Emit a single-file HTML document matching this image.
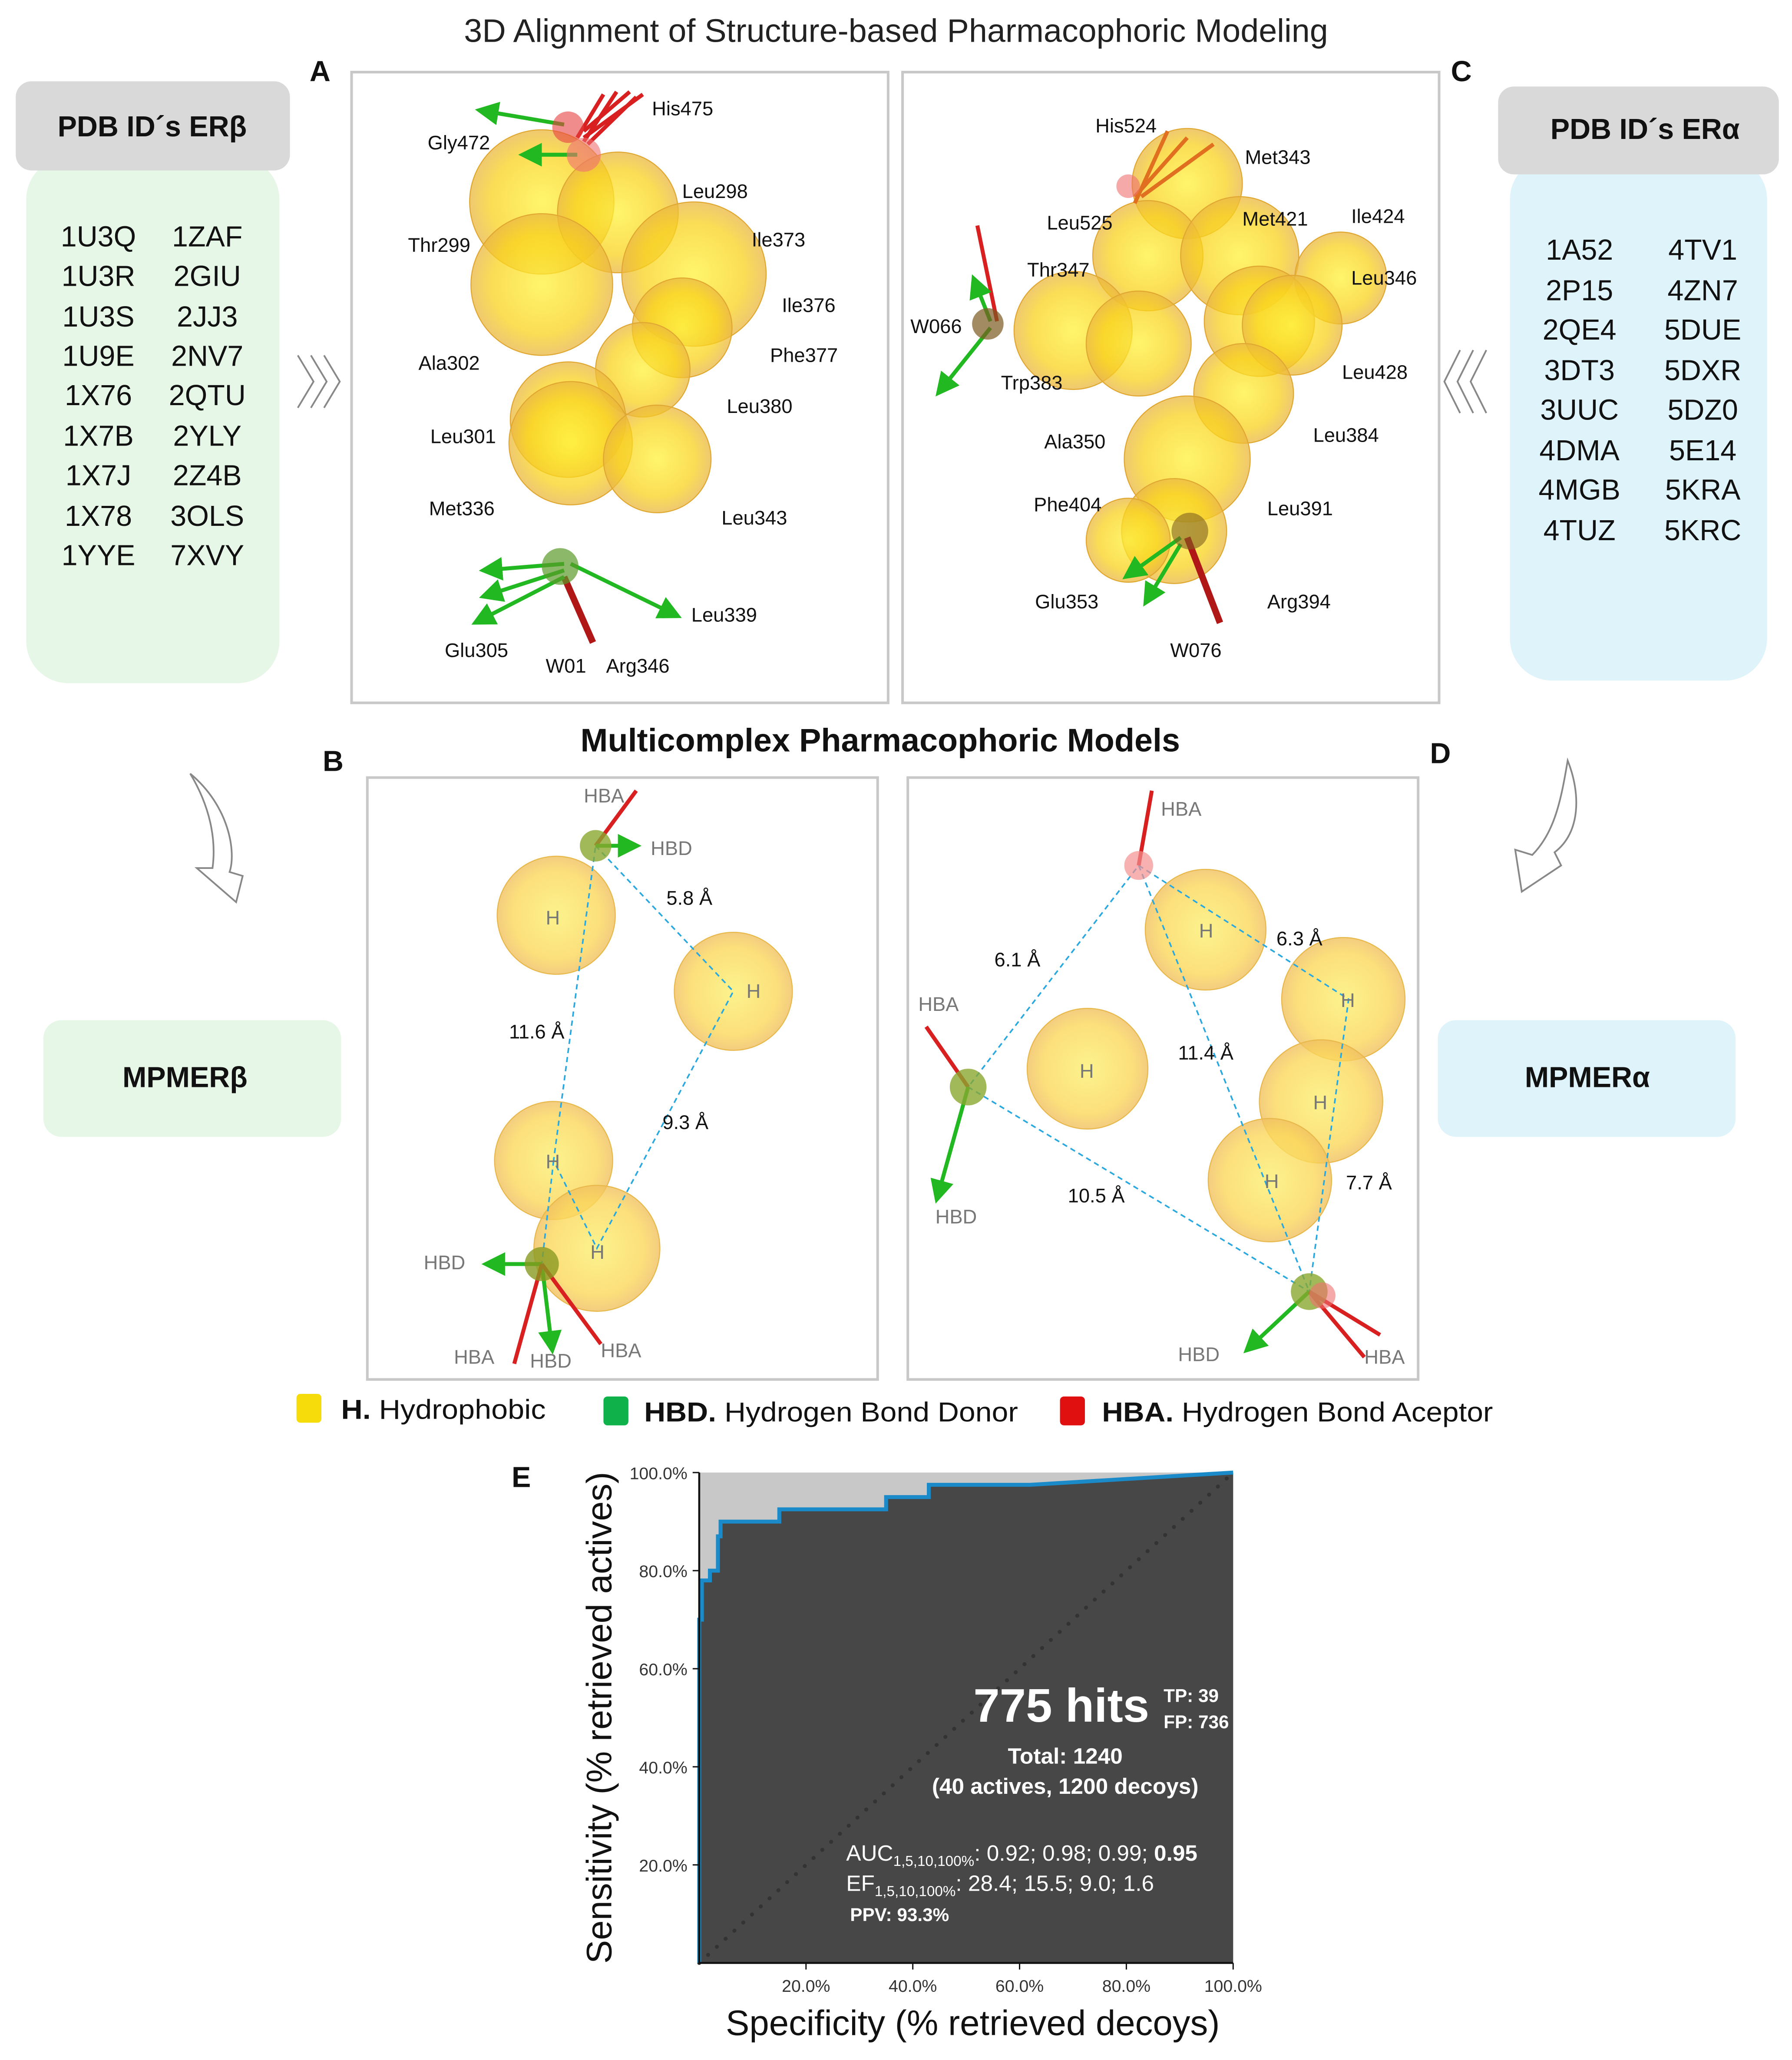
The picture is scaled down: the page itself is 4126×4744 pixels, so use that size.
<!DOCTYPE html>
<html><head><meta charset="utf-8"><style>
html,body{margin:0;padding:0;background:#fff;}
svg{display:block;}
text{font-family:"Liberation Sans",sans-serif;}
</style></head><body>
<svg id="fig" width="4126" height="4744" viewBox="0 0 1366 1571" preserveAspectRatio="none" xmlns="http://www.w3.org/2000/svg">
<defs>
<radialGradient id="sph" cx="50%" cy="50%" r="50%"><stop offset="0%" stop-color="#fff23a"/><stop offset="70%" stop-color="#f9d21c"/><stop offset="100%" stop-color="#eab640"/></radialGradient>
<radialGradient id="sphL" cx="50%" cy="50%" r="50%"><stop offset="0%" stop-color="#fbef70"/><stop offset="75%" stop-color="#fbd75a"/><stop offset="100%" stop-color="#f0c060"/></radialGradient>
<marker id="ag" markerWidth="6" markerHeight="6" refX="5" refY="3" orient="auto"><path d="M0,0 L6,3 L0,6z" fill="#22b822"/></marker>
<marker id="ar" markerWidth="6" markerHeight="6" refX="5" refY="3" orient="auto"><path d="M0,0 L6,3 L0,6z" fill="#d82020"/></marker>
</defs>

<text x="683" y="32" font-size="25" text-anchor="middle" fill="#222">3D Alignment of Structure-based Pharmacophoric Modeling</text>

<g>
<rect x="20" y="120" width="193" height="401" rx="32" fill="#e6f7e8"/>
<rect x="12" y="62" width="209" height="68" rx="12" fill="#d9d9d9"/>
<text x="116" y="104" font-size="22" font-weight="bold" text-anchor="middle" fill="#111">PDB ID´s ERβ</text>
<g font-size="22" fill="#111" text-anchor="middle">
<text x="75" y="188">1U3Q</text><text x="158" y="188">1ZAF</text>
<text x="75" y="218">1U3R</text><text x="158" y="218">2GIU</text>
<text x="75" y="249">1U3S</text><text x="158" y="249">2JJ3</text>
<text x="75" y="279">1U9E</text><text x="158" y="279">2NV7</text>
<text x="75" y="309">1X76</text><text x="158" y="309">2QTU</text>
<text x="75" y="340">1X7B</text><text x="158" y="340">2YLY</text>
<text x="75" y="370">1X7J</text><text x="158" y="370">2Z4B</text>
<text x="75" y="401">1X78</text><text x="158" y="401">3OLS</text>
<text x="75" y="431">1YYE</text><text x="158" y="431">7XVY</text>
</g></g>
<path d="M227,271 l12,20 l-12,20 M237,271 l12,20 l-12,20 M247,271 l12,20 l-12,20" stroke="#888" fill="none" stroke-width="1.3"/>
<path d="M1133,267 l-12,24 l12,24 M1123,267 l-12,24 l12,24 M1113,267 l-12,24 l12,24" stroke="#888" fill="none" stroke-width="1.3"/>

<g>
<rect x="1151" y="120" width="196" height="399" rx="32" fill="#dff3fa"/>
<rect x="1142" y="66" width="214" height="67" rx="12" fill="#d9d9d9"/>
<text x="1254" y="106" font-size="22" font-weight="bold" text-anchor="middle" fill="#111">PDB ID´s ERα</text>
<g font-size="22" fill="#111" text-anchor="middle">
<text x="1204" y="198">1A52</text><text x="1298" y="198">4TV1</text>
<text x="1204" y="229">2P15</text><text x="1298" y="229">4ZN7</text>
<text x="1204" y="259">2QE4</text><text x="1298" y="259">5DUE</text>
<text x="1204" y="290">3DT3</text><text x="1298" y="290">5DXR</text>
<text x="1204" y="320">3UUC</text><text x="1298" y="320">5DZ0</text>
<text x="1204" y="351">4DMA</text><text x="1298" y="351">5E14</text>
<text x="1204" y="381">4MGB</text><text x="1298" y="381">5KRA</text>
<text x="1204" y="412">4TUZ</text><text x="1298" y="412">5KRC</text>
</g></g>

<g font-size="22" font-weight="bold" fill="#111">
<text x="236" y="62">A</text><text x="1106" y="62">C</text><text x="246" y="588">B</text><text x="1090" y="582">D</text><text x="390" y="1134">E</text>
</g>

<g>
<rect x="268" y="55" width="409" height="481" fill="#fff" stroke="#c8c8c8" stroke-width="2"/>
<g stroke="#e0a830" stroke-width="0.8" fill="url(#sph)" fill-opacity="0.75">
<circle cx="413" cy="154" r="55"/><circle cx="471" cy="162" r="46"/><circle cx="413" cy="217" r="54"/>
<circle cx="529" cy="209" r="55"/><circle cx="520" cy="250" r="38"/><circle cx="490" cy="282" r="36"/>
<circle cx="433" cy="320" r="44"/><circle cx="435" cy="338" r="47"/><circle cx="501" cy="350" r="41"/>
</g>
<g stroke-width="3">
<line x1="445" y1="105" x2="490" y2="72" stroke="#d82020"/><line x1="445" y1="100" x2="480" y2="70" stroke="#d82020"/><line x1="445" y1="108" x2="470" y2="70" stroke="#d82020"/><line x1="440" y1="105" x2="460" y2="72" stroke="#d82020"/><line x1="448" y1="110" x2="485" y2="74" stroke="#d82020"/>
<line x1="430" y1="95" x2="365" y2="84" stroke="#22b822" marker-end="url(#ag)"/><line x1="440" y1="118" x2="398" y2="118" stroke="#22b822" marker-end="url(#ag)"/>
<line x1="430" y1="440" x2="452" y2="490" stroke="#b01818" stroke-width="5"/>
<line x1="430" y1="430" x2="368" y2="435" stroke="#22b822" marker-end="url(#ag)"/><line x1="430" y1="435" x2="368" y2="455" stroke="#22b822" marker-end="url(#ag)"/>
<line x1="430" y1="440" x2="362" y2="475" stroke="#22b822" marker-end="url(#ag)"/><line x1="435" y1="430" x2="517" y2="470" stroke="#22b822" marker-end="url(#ag)"/>
</g>
<circle cx="433" cy="97" r="12" fill="#e84040" fill-opacity="0.6"/><circle cx="445" cy="118" r="13" fill="#f07070" fill-opacity="0.6"/>
<circle cx="427" cy="432" r="14" fill="#5a9a2a" fill-opacity="0.7"/>
<g font-size="15" fill="#111">
<text x="497" y="88">His475</text><text x="326" y="114">Gly472</text><text x="520" y="151">Leu298</text><text x="311" y="192">Thr299</text>
<text x="573" y="188">Ile373</text><text x="596" y="238">Ile376</text><text x="319" y="282">Ala302</text><text x="587" y="276">Phe377</text>
<text x="554" y="315">Leu380</text><text x="328" y="338">Leu301</text><text x="327" y="393">Met336</text><text x="550" y="400">Leu343</text>
<text x="527" y="474">Leu339</text><text x="339" y="501">Glu305</text><text x="416" y="513">W01</text><text x="462" y="513">Arg346</text>
</g></g>

<g>
<rect x="688" y="55" width="409" height="481" fill="#fff" stroke="#c8c8c8" stroke-width="2"/>
<g stroke="#e0a830" stroke-width="0.8" fill="url(#sph)" fill-opacity="0.75">
<circle cx="905" cy="140" r="42"/><circle cx="875" cy="195" r="42"/><circle cx="945" cy="195" r="45"/>
<circle cx="1022" cy="212" r="35"/><circle cx="960" cy="245" r="42"/><circle cx="818" cy="252" r="45"/>
<circle cx="868" cy="262" r="40"/><circle cx="985" cy="248" r="38"/><circle cx="948" cy="300" r="38"/>
<circle cx="905" cy="350" r="48"/><circle cx="895" cy="405" r="40"/><circle cx="860" cy="412" r="32"/>
</g>
<g stroke-width="3">
<line x1="865" y1="150" x2="905" y2="105" stroke="#e07020"/><line x1="870" y1="150" x2="925" y2="110" stroke="#e07020"/><line x1="865" y1="155" x2="890" y2="100" stroke="#e07020"/>
<line x1="760" y1="245" x2="745" y2="172" stroke="#d82020"/><line x1="755" y1="245" x2="742" y2="212" stroke="#22b822" marker-end="url(#ag)"/>
<line x1="755" y1="250" x2="715" y2="300" stroke="#22b822" marker-end="url(#ag)"/>
<line x1="905" y1="410" x2="930" y2="475" stroke="#b01818" stroke-width="5"/><line x1="900" y1="410" x2="858" y2="440" stroke="#22b822" marker-end="url(#ag)"/><line x1="900" y1="415" x2="873" y2="460" stroke="#22b822" marker-end="url(#ag)"/>
</g>
<circle cx="753" cy="247" r="12" fill="#7a5a20" fill-opacity="0.7"/><circle cx="860" cy="142" r="9" fill="#f07070" fill-opacity="0.6"/><circle cx="907" cy="405" r="14" fill="#806020" fill-opacity="0.6"/>
<g font-size="15" fill="#111">
<text x="835" y="101">His524</text><text x="949" y="125">Met343</text><text x="798" y="175">Leu525</text><text x="947" y="172">Met421</text>
<text x="1030" y="170">Ile424</text><text x="783" y="211">Thr347</text><text x="1030" y="217">Leu346</text><text x="694" y="254">W066</text>
<text x="763" y="297">Trp383</text><text x="1023" y="289">Leu428</text><text x="796" y="342">Ala350</text><text x="1001" y="337">Leu384</text>
<text x="788" y="390">Phe404</text><text x="966" y="393">Leu391</text><text x="789" y="464">Glu353</text><text x="966" y="464">Arg394</text><text x="892" y="501">W076</text>
</g></g>

<text x="671" y="573" font-size="25" font-weight="bold" text-anchor="middle" fill="#111">Multicomplex Pharmacophoric Models</text>

<path d="M145,590 C175,615 180,650 175,665 L185,668 L180,688 L150,662 L162,662 C165,640 160,615 145,590z" fill="#fff" stroke="#888" stroke-width="1.3"/>
<path d="M1195,580 C1205,605 1205,635 1185,650 L1190,660 L1160,680 L1155,648 L1168,652 C1185,635 1190,610 1195,580z" fill="#fff" stroke="#888" stroke-width="1.3"/>

<rect x="33" y="778" width="227" height="89" rx="14" fill="#e6f7e8"/>
<text x="141" y="829" font-size="22" font-weight="bold" text-anchor="middle" fill="#111">MPMERβ</text>
<rect x="1096" y="778" width="227" height="89" rx="14" fill="#dff3fa"/>
<text x="1210" y="829" font-size="22" font-weight="bold" text-anchor="middle" fill="#111">MPMERα</text>

<g>
<rect x="280" y="593" width="389" height="459" fill="#fff" stroke="#c8c8c8" stroke-width="2"/>
<g stroke="#e8b84a" stroke-width="0.8" fill="url(#sphL)" fill-opacity="0.8">
<circle cx="424" cy="698" r="45"/><circle cx="559" cy="756" r="45"/><circle cx="422" cy="885" r="45"/><circle cx="455" cy="952" r="48"/>
</g>
<g fill="none" stroke="#29a8e0" stroke-width="1.2" stroke-dasharray="4,3">
<polyline points="454,645 559,756 455,952 422,885 454,645"/><line x1="422" y1="885" x2="413" y2="964"/>
</g>
<g stroke-width="3">
<line x1="454" y1="645" x2="485" y2="603" stroke="#d82020"/><line x1="454" y1="645" x2="486" y2="645" stroke="#22b822" marker-end="url(#ag)"/>
<line x1="413" y1="964" x2="370" y2="964" stroke="#22b822" marker-end="url(#ag)"/><line x1="413" y1="964" x2="421" y2="1030" stroke="#22b822" marker-end="url(#ag)"/>
<line x1="413" y1="964" x2="392" y2="1040" stroke="#d82020"/><line x1="413" y1="964" x2="458" y2="1025" stroke="#d82020"/>
</g>
<circle cx="454" cy="645" r="12" fill="#8aa830" fill-opacity="0.8"/><circle cx="413" cy="964" r="13" fill="#8a9a20" fill-opacity="0.8"/>
<g font-size="15" fill="#777"><text x="445" y="612">HBA</text><text x="496" y="652">HBD</text><text x="323" y="968">HBD</text><text x="346" y="1040">HBA</text><text x="404" y="1043">HBD</text><text x="458" y="1035">HBA</text>
<text x="416" y="705">H</text><text x="569" y="761">H</text><text x="416" y="891">H</text><text x="450" y="960">H</text></g>
<g font-size="15" fill="#111"><text x="508" y="690">5.8 Å</text><text x="388" y="792">11.6 Å</text><text x="505" y="861">9.3 Å</text></g>
</g>

<g>
<rect x="692" y="593" width="389" height="459" fill="#fff" stroke="#c8c8c8" stroke-width="2"/>
<g stroke="#e8b84a" stroke-width="0.8" fill="url(#sphL)" fill-opacity="0.8">
<circle cx="919" cy="709" r="46"/><circle cx="1024" cy="762" r="47"/><circle cx="829" cy="815" r="46"/><circle cx="1007" cy="840" r="47"/><circle cx="968" cy="900" r="47"/>
</g>
<g fill="none" stroke="#29a8e0" stroke-width="1.2" stroke-dasharray="4,3">
<polyline points="868,660 1028,762 998,985 738,829 868,660"/><line x1="868" y1="660" x2="998" y2="985"/>
</g>
<g stroke-width="3">
<line x1="868" y1="660" x2="878" y2="603" stroke="#d82020"/><line x1="738" y1="829" x2="706" y2="783" stroke="#d82020"/>
<line x1="738" y1="829" x2="714" y2="915" stroke="#22b822" marker-end="url(#ag)"/>
<line x1="998" y1="985" x2="950" y2="1030" stroke="#22b822" marker-end="url(#ag)"/><line x1="998" y1="985" x2="1040" y2="1035" stroke="#d82020"/><line x1="998" y1="985" x2="1052" y2="1018" stroke="#d82020"/>
</g>
<circle cx="868" cy="660" r="11" fill="#f49090" fill-opacity="0.7"/><circle cx="738" cy="829" r="14" fill="#8aa830" fill-opacity="0.8"/><circle cx="998" cy="985" r="14" fill="#8aa830" fill-opacity="0.8"/><circle cx="1008" cy="988" r="10" fill="#f07070" fill-opacity="0.6"/>
<g font-size="15" fill="#777"><text x="885" y="622">HBA</text><text x="700" y="771">HBA</text><text x="713" y="933">HBD</text><text x="898" y="1038">HBD</text><text x="1040" y="1040">HBA</text>
<text x="914" y="715">H</text><text x="1022" y="768">H</text><text x="823" y="822">H</text><text x="1001" y="846">H</text><text x="964" y="906">H</text></g>
<g font-size="15" fill="#111"><text x="758" y="737">6.1 Å</text><text x="973" y="721">6.3 Å</text><text x="898" y="808">11.4 Å</text><text x="814" y="917">10.5 Å</text><text x="1026" y="907">7.7 Å</text></g>
</g>

<g font-size="21" fill="#111">
<rect x="226" y="1063" width="19" height="22" rx="3" fill="#f5dc0a"/><text x="260" y="1082" textLength="156" lengthAdjust="spacingAndGlyphs"><tspan font-weight="bold">H.</tspan> Hydrophobic</text>
<rect x="460" y="1065" width="19" height="22" rx="3" fill="#0fb14a"/><text x="491" y="1084" textLength="285" lengthAdjust="spacingAndGlyphs"><tspan font-weight="bold">HBD.</tspan> Hydrogen Bond Donor</text>
<rect x="808" y="1065" width="19" height="22" rx="3" fill="#e01010"/><text x="840" y="1084" textLength="298" lengthAdjust="spacingAndGlyphs"><tspan font-weight="bold">HBA.</tspan> Hydrogen Bond Aceptor</text>
</g>

<g id="roc"></g>
</svg>
<script>
const fprValues=[0,0,0.5,0.5,2,2,3.5,3.5,4,4,15,15,35,35,43,43,62,100];
const tprValues=[0,70,70,78,78,80,80,87,87,90,90,92.5,92.5,95,95,97.5,97.5,100];
const yTicks=[20,40,60,80,100];
const xTicks=[20,40,60,80,100];
const NS='http://www.w3.org/2000/svg';
const X0=533,X1=940,Y0=1497,Y1=1123;
function sx(v){return X0+(X1-X0)*v/100;}
function sy(v){return Y0-(Y0-Y1)*v/100;}
const g=document.getElementById('roc');
function mk(t,a,p){const e=document.createElementNS(NS,t);for(const k in a)e.setAttribute(k,a[k]);(p||g).appendChild(e);return e;}
const bg=mk('rect',{x:X0,y:Y1,width:X1-X0,height:Y0-Y1,fill:'#c8c8c8'});


let pts=fprValues.map((f,i)=>sx(f)+','+sy(tprValues[i])).join(' ');
const area=mk('polygon',{points:pts+' '+sx(100)+','+sy(0),fill:'#474747'});


const diag=mk('line',{x1:sx(0),y1:sy(0),x2:sx(100),y2:sy(100),stroke:'#333','stroke-width':3,'stroke-dasharray':'0.1,9','stroke-linecap':'round'});


const line=mk('polyline',{points:pts,fill:'none',stroke:'#1a8ac8','stroke-width':3});


const ax=mk('path',{d:`M${X0},${Y1} L${X0},${Y0} L${X1},${Y0}`,fill:'none',stroke:'#111','stroke-width':1.5});


yTicks.forEach(v=>{
 mk('line',{x1:X0-5,y1:sy(v),x2:X0,y2:sy(v),stroke:'#111'});
 const t=mk('text',{x:X0-9,y:sy(v)+5,'font-size':13,'text-anchor':'end',fill:'#333'});t.textContent=v.toFixed(1)+'%';
 
 
});
xTicks.forEach(v=>{
 mk('line',{x1:sx(v),y1:Y0,x2:sx(v),y2:Y0+5,stroke:'#111'});
 const t=mk('text',{x:sx(v),y:Y0+22,'font-size':13,'text-anchor':'middle',fill:'#333'});t.textContent=v.toFixed(1)+'%';
 
 
});
const yt=mk('text',{x:0,y:0,'font-size':27,'text-anchor':'middle',fill:'#111',transform:`translate(466,${(Y0+Y1)/2}) rotate(-90)`});
yt.textContent='Sensitivity (% retrieved actives)';


const xt=mk('text',{x:(X0+X1)/2+5,y:1552,'font-size':27,'text-anchor':'middle',fill:'#111'});
xt.textContent='Specificity (% retrieved decoys)';


const ann=document.createElementNS(NS,'g');


ann.setAttribute('fill','#fff');
ann.innerHTML='<text x="742" y="1313" font-size="36" font-weight="bold">775 hits</text>'+
'<text x="887" y="1298" font-size="14" font-weight="bold">TP: 39</text><text x="887" y="1318" font-size="14" font-weight="bold">FP: 736</text>'+
'<text x="812" y="1345" font-size="17" font-weight="bold" text-anchor="middle">Total: 1240</text>'+
'<text x="812" y="1368" font-size="17" font-weight="bold" text-anchor="middle">(40 actives, 1200 decoys)</text>'+
'<text x="645" y="1419" font-size="17">AUC<tspan font-size="11" dy="4">1,5,10,100%</tspan><tspan dy="-4">: 0.92; 0.98; 0.99; </tspan><tspan font-weight="bold">0.95</tspan></text>'+
'<text x="645" y="1442" font-size="17">EF<tspan font-size="11" dy="4">1,5,10,100%</tspan><tspan dy="-4">: 28.4; 15.5; 9.0; 1.6</tspan></text>'+
'<text x="648" y="1465" font-size="14" font-weight="bold">PPV: 93.3%</text>';
g.appendChild(ann);
</script>
</body></html>
